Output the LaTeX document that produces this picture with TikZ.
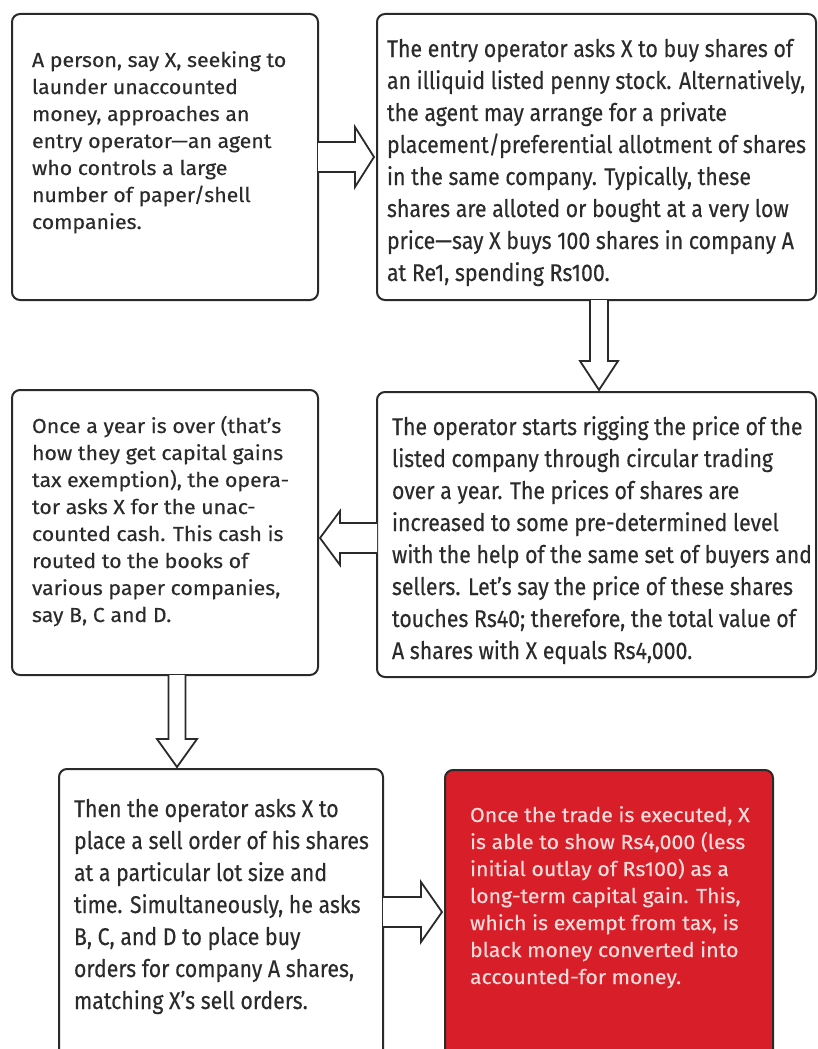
\documentclass[tikz,border=0pt]{standalone}
\usepackage{fontspec}
\setmainfont{Fira Sans}[FakeStretch=1.05,FakeBold=0.3]
\newfontfamily\bigfont{Fira Sans}[FakeStretch=0.88,FakeBold=0.3]
\usetikzlibrary{calc}
\definecolor{boxc}{HTML}{2A2A2A}
\definecolor{txtc}{HTML}{2B2B2B}
\definecolor{redbox}{HTML}{D81E28}
\definecolor{redtxt}{HTML}{F8DCDC}
\tikzset{
  box/.style={draw=boxc, line width=2pt, rounded corners=8pt, inner sep=0pt, outer sep=0pt, anchor=north west, fill=white},
  txt/.style={anchor=base west, inner sep=0pt, outer sep=0pt, text=txtc},
  smallfont/.style={font=\fontsize{20.3}{27}\selectfont},
  largefont/.style={font=\bigfont\fontsize{24.2}{32}\selectfont},
  blockarrow/.style={draw=boxc, line width=1.8pt, fill=white, line join=miter},
}
\newcommand{\lines}[1]{\begin{tabular}[t]{@{}l@{}}#1\end{tabular}}
\begin{document}
\begin{tikzpicture}[x=1pt,y=-1pt]
\fill[white] (0,0) rectangle (818,1049);
\clip (0,0) rectangle (818,1049);

% boxes
\node[box, minimum width=306pt, minimum height=286pt] (b1) at (12,14) {};
\node[box, minimum width=439pt, minimum height=286pt] (b2) at (377,14) {};
\node[box, minimum width=439pt, minimum height=285pt] (b3) at (377,392) {};
\node[box, minimum width=306pt, minimum height=285pt] (b4) at (12,390) {};
\node[box, minimum width=324pt, minimum height=310pt] (b5) at (59,769) {};
\node[box, minimum width=328pt, minimum height=310pt, fill=redbox] (b6) at (445,770) {};

% texts
\node[txt, smallfont] (t1) at (32,67) {\lines{A person, say X, seeking to\\
launder unaccounted\\
money, approaches an\\
entry operator—an agent\\
who controls a large\\
number of paper/shell\\
companies.}};

\node[txt, largefont] (t2) at (387,57) {\lines{The entry operator asks X to buy shares of\\
an illiquid listed penny stock. Alternatively,\\
the agent may arrange for a private\\
placement/preferential allotment of shares\\
in the same company. Typically, these\\
shares are alloted or bought at a very low\\
price—say X buys 100 shares in company A\\
at Re1, spending Rs100.}};

\node[txt, largefont] (t3) at (392,435) {\lines{The operator starts rigging the price of the\\
listed company through circular trading\\
over a year. The prices of shares are\\
increased to some pre-determined level\\
with the help of the same set of buyers and\\
sellers. Let’s say the price of these shares\\
touches Rs40; therefore, the total value of\\
A shares with X equals Rs4,000.}};

\node[txt, smallfont] (t4) at (32,433) {\lines{Once a year is over (that’s\\
how they get capital gains\\
tax exemption), the opera-\\
tor asks X for the unac-\\
counted cash. This cash is\\
routed to the books of\\
various paper companies,\\
say B, C and D.}};

\node[txt, largefont] (t5) at (74,817) {\lines{Then the operator asks X to\\
place a sell order of his shares\\
at a particular lot size and\\
time. Simultaneously, he asks\\
B, C, and D to place buy\\
orders for company A shares,\\
matching X’s sell orders.}};

\node[txt, smallfont, text=redtxt] (t6) at (470,822) {\lines{Once the trade is executed, X\\
is able to show Rs4,000 (less\\
initial outlay of Rs100) as a\\
long-term capital gain. This,\\
which is exempt from tax, is\\
black money converted into\\
accounted-for money.}};

% arrow b1 -> b2
\draw[blockarrow] ($(b1.east)+(0,-15)$) -- ($(b2.west)+(-22,-15)$) -- ($(b2.west)+(-22,-30)$)
  -- ($(b2.west)+(-3,0)$) -- ($(b2.west)+(-22,30)$) -- ($(b2.west)+(-22,15)$) -- ($(b1.east)+(0,15)$);

% arrow b2 -> b3
\coordinate (d1s) at ($(b2.south west)+(222,0)$);
\coordinate (d1t) at (d1s |- b3.north);
\draw[blockarrow] ($(d1s)+(-9,0)$) -- ($(d1t)+(-9,-31)$) -- ($(d1t)+(-19,-31)$)
  -- ($(d1t)+(0,-2)$) -- ($(d1t)+(19,-31)$) -- ($(d1t)+(9,-31)$) -- ($(d1s)+(9,0)$);

% arrow b3 -> b4
\coordinate (l1s) at ($(b3.north west)+(0,146)$);
\coordinate (l1t) at (b4.east |- l1s);
\draw[blockarrow] ($(l1s)+(0,-15)$) -- ($(l1t)+(22,-15)$) -- ($(l1t)+(22,-27)$)
  -- ($(l1t)+(2,0)$) -- ($(l1t)+(22,27)$) -- ($(l1t)+(22,15)$) -- ($(l1s)+(0,15)$);

% arrow b4 -> b5
\coordinate (d2s) at ($(b4.south west)+(165,0)$);
\coordinate (d2t) at (d2s |- b5.north);
\draw[blockarrow] ($(d2s)+(-8.5,0)$) -- ($(d2t)+(-8.5,-30)$) -- ($(d2t)+(-20,-30)$)
  -- ($(d2t)+(0,-2)$) -- ($(d2t)+(20,-30)$) -- ($(d2t)+(8.5,-30)$) -- ($(d2s)+(8.5,0)$);

% arrow b5 -> b6
\coordinate (r2s) at ($(b5.north west)+(324,143)$);
\coordinate (r2t) at (b6.west |- r2s);
\draw[blockarrow] ($(r2s)+(0,-15)$) -- ($(r2t)+(-24,-15)$) -- ($(r2t)+(-24,-30)$)
  -- ($(r2t)+(-3,0)$) -- ($(r2t)+(-24,30)$) -- ($(r2t)+(-24,15)$) -- ($(r2s)+(0,15)$);
\end{tikzpicture}
\end{document}
